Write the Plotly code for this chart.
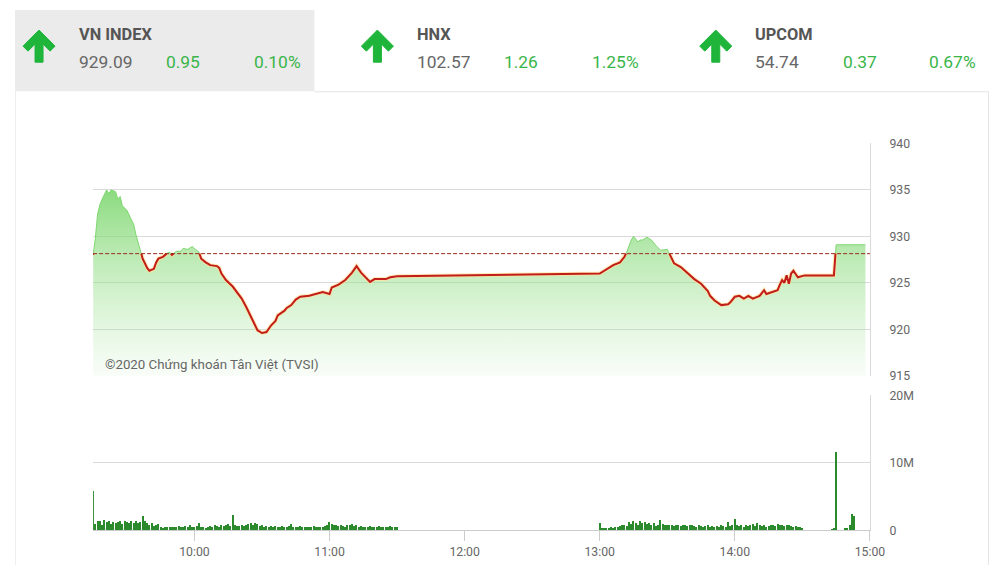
import plotly.graph_objects as go
import pandas as pd

DAY = "2020-06-01 "
REF = 928.14  # reference (previous close)

# ---------------- header data ----------------
index_names = ["VN INDEX", "HNX", "UPCOM"]
index_values = ["929.09", "102.57", "54.74"]
index_changes = ["0.95", "1.26", "0.37"]
index_pcts = ["0.10%", "1.25%", "0.67%"]

# ---------------- price data ----------------
price_times = [
    "09:15", "09:16", "09:17", "09:18", "09:19", "09:20", "09:21", "09:22", "09:23", "09:25",
    "09:26", "09:27", "09:28", "09:30", "09:31", "09:33", "09:34", "09:36", "09:37", "09:39",
    "09:40", "09:42", "09:43", "09:44", "09:46", "09:48", "09:49", "09:50", "09:52", "09:54",
    "09:55", "09:57", "09:59", "10:00", "10:02", "10:03", "10:05", "10:07", "10:10", "10:11",
    "10:12", "10:14", "10:17", "10:19", "10:21", "10:23", "10:25", "10:27", "10:28", "10:30",
    "10:32", "10:34", "10:36", "10:37", "10:40", "10:41", "10:43", "10:45", "10:47", "10:51",
    "10:54", "10:57", "11:00", "11:01", "11:04", "11:07", "11:10", "11:12", "11:14", "11:16",
    "11:18", "11:20", "11:25", "11:27", "11:30",
    "13:00", "13:02", "13:04", "13:06", "13:09", "13:11", "13:12", "13:13", "13:14", "13:15",
    "13:17", "13:18", "13:19", "13:21", "13:23", "13:25", "13:27", "13:30", "13:31", "13:33",
    "13:36", "13:39", "13:42", "13:45", "13:48", "13:49", "13:51", "13:54", "13:57", "13:58",
    "14:00", "14:02", "14:04", "14:06", "14:08", "14:11", "14:13", "14:14", "14:17", "14:19",
    "14:20", "14:21", "14:22", "14:23", "14:24", "14:25", "14:26", "14:27", "14:28", "14:31",
    "14:43", "14:44", "14:45", "14:58",
]
price_values = [
    928.0, 929.8, 932.4, 933.4, 934.0, 934.6, 935.0, 934.6, 935.0, 934.8,
    934.0, 934.3, 933.3, 932.8, 932.3, 931.3, 930.2, 928.5, 927.6, 926.6,
    926.3, 926.5, 927.2, 927.6, 927.8, 928.2, 928.3, 928.0, 928.4, 928.4,
    928.7, 928.6, 928.9, 928.7, 928.3, 927.6, 927.2, 926.9, 926.8, 926.6,
    926.0, 925.3, 924.6, 923.9, 923.3, 922.4, 921.4, 920.5, 919.9, 919.6,
    919.7, 920.4, 920.9, 921.5, 922.0, 922.3, 922.6, 923.2, 923.5, 923.6,
    923.8, 924.0, 923.8, 924.5, 924.8, 925.3, 926.1, 926.8, 926.1, 925.6,
    925.1, 925.4, 925.4, 925.6, 925.7,
    926.0, 926.3, 926.6, 926.9, 927.2, 927.8, 928.3, 929.0, 929.6, 930.0,
    929.4, 929.6, 929.6, 929.9, 929.6, 929.0, 928.5, 928.6, 928.1, 927.1,
    926.7, 926.0, 925.4, 924.9, 924.1, 923.6, 923.1, 922.6, 922.7, 922.9,
    923.5, 923.6, 923.3, 923.6, 923.3, 923.6, 924.2, 923.8, 924.0, 924.2,
    924.8, 925.3, 925.0, 925.8, 924.9, 926.0, 926.3, 925.9, 925.6, 925.8,
    925.8, 925.8, 929.09, 929.09,
]

# ---------------- volume data (millions of shares, 1-minute bars) ----------------
morning_start = "09:15"
morning_vol = [
    5.8, 0.9, 1.3, 1.4, 0.8,
    1.5, 1.2, 1.4, 0.9, 1.2,
    1.1, 1.2, 1.3, 0.9, 1.4,
    1.2, 1.0, 1.3, 1.1, 1.4,
    1.0, 1.2, 2.0, 1.3, 1.0,
    0.8, 1.0, 0.6, 0.8, 0.9,
    0.4, 0.3, 0.5, 0.4, 0.5,
    0.4, 0.5, 0.4, 0.6, 0.5,
    0.4, 0.6, 0.5, 0.7, 0.5,
    0.4, 0.6, 1.0, 0.5, 0.4,
    0.3, 0.5, 0.6, 0.4, 0.7,
    0.6, 0.5, 0.8, 0.6, 0.7,
    0.9, 0.6, 2.2, 0.7, 0.6,
    0.6, 0.7, 0.6, 0.8, 0.9,
    1.0, 0.8, 1.1, 0.9, 0.6,
    0.7, 0.5, 0.6, 0.5, 0.6,
    0.5, 0.6, 0.4, 0.5, 0.6,
    0.5, 0.4, 0.6, 0.9, 0.5,
    0.4, 0.5, 0.6, 0.4, 0.5,
    0.4, 0.5, 0.4, 0.6, 0.5,
    0.4, 0.5, 0.4, 0.6, 0.8,
    1.2, 0.9, 0.8, 0.7, 0.6,
    0.7, 0.6, 0.5, 0.7, 0.8,
    0.9, 0.6, 0.8, 0.5, 0.6,
    0.5, 0.4, 0.5, 0.6, 0.5,
    0.4, 0.5, 0.6, 0.4, 0.5,
    0.4, 0.5, 0.6, 0.4, 0.5,
    0.4,
]
afternoon_start = "13:00"
afternoon_vol = [
    1.0,
    0.2, 0.3, 0.2, 0.3, 0.4,
    0.3, 0.4, 0.5, 0.6, 0.7,
    0.8, 0.6, 1.2, 0.9, 1.3,
    1.1, 0.8, 1.3, 1.0, 1.2,
    0.9, 1.1, 0.7, 1.0, 0.6,
    0.7, 1.5, 0.9, 0.8, 0.7,
    0.8, 0.7, 0.6, 0.8, 0.7,
    0.6, 0.8, 0.7, 0.6, 0.8,
    0.7, 0.6, 0.5, 0.7, 0.6,
    0.5, 0.6, 0.7, 0.5, 0.6,
    0.5, 0.6, 0.5, 0.7, 0.6,
    0.5, 1.2, 0.6, 0.7, 1.6,
    0.8, 0.6, 0.7, 0.5, 0.8,
    0.6, 0.7, 0.9, 0.6, 1.1,
    0.8, 0.6, 0.7, 0.5, 0.6,
    0.8, 0.7, 0.6, 0.9, 0.7,
    0.8, 0.6, 0.7, 0.8, 0.6,
    0.5, 0.6, 0.5, 0.4, 0.3,
]
close_vol_times = ["14:43", "14:44", "14:45", "14:49", "14:50", "14:51", "14:52", "14:53"]
close_vol = [0.1, 0.15, 11.5, 0.25, 0.35, 0.75, 2.4, 2.1]

# ---------------- axis ticks ----------------
price_ticks = [915, 920, 925, 930, 935, 940]
vol_ticks = [0, 10, 20]
vol_tick_labels = ["0", "10M", "20M"]
time_ticks = ["10:00", "11:00", "12:00", "13:00", "14:00", "15:00"]
watermark = "©2020 Chứng khoán Tân Việt (TVSI)"

# ---------------- helpers ----------------
W, H = 1004, 565
# the captured page is slightly rescaled; positions below are given in
# final-picture pixels and mapped back to figure pixels
SX, SY, OY = 0.984, 0.972, 7.0
FS = 1.0 / 0.978  # font compensation


def px(x):
    return (x / SX) / W


def py(y):
    return 1 - ((y - OY) / SY) / H


def ts(t):
    return DAY + t + ":00" if len(t) == 5 else DAY + t


FONT = "Roboto, 'Noto Sans', sans-serif"
GRID = "#dadada"
TXT = "#666666"
GREEN = "#39b54a"

price_x = [ts(t) for t in price_times]

# split the series: red line only where the index is below the reference
ptimes = pd.to_datetime(price_x)
red_x, red_y = [], []
for i in range(len(price_values)):
    v = price_values[i]
    if i > 0:
        v0 = price_values[i - 1]
        if (v0 - REF) * (v - REF) < 0:
            f = (REF - v0) / (v - v0)
            tc = ptimes[i - 1] + (ptimes[i] - ptimes[i - 1]) * f
            red_x.append(tc.strftime("%Y-%m-%d %H:%M:%S"))
            red_y.append(REF)
            if v > REF:
                red_x.append(None)
                red_y.append(None)
    if v <= REF:
        red_x.append(price_x[i])
        red_y.append(v)

m_x = [d.strftime("%Y-%m-%d %H:%M:%S") for d in pd.date_range(DAY + morning_start, periods=len(morning_vol), freq="min")]
a_x = [d.strftime("%Y-%m-%d %H:%M:%S") for d in pd.date_range(DAY + afternoon_start, periods=len(afternoon_vol), freq="min")]
c_x = [ts(t) for t in close_vol_times]
vol_x = m_x + a_x + c_x
vol_y = morning_vol + afternoon_vol + close_vol

fig = go.Figure()

# green gradient area
fig.add_trace(go.Scatter(
    x=price_x, y=price_values, mode="lines",
    line=dict(color="rgba(125,215,110,1)", width=1),
    fill="tozeroy",
    fillgradient=dict(type="vertical", start=915, stop=936,
                      colorscale=[[0, "rgba(170,230,160,0.05)"], [1, "rgba(110,210,95,0.85)"]]),
    xaxis="x", yaxis="y", hoverinfo="skip",
))
# halo under red line
fig.add_trace(go.Scatter(
    x=red_x, y=red_y, mode="lines", connectgaps=False,
    line=dict(color="rgba(255,225,150,0.7)", width=4),
    xaxis="x", yaxis="y", hoverinfo="skip",
))
# red line
fig.add_trace(go.Scatter(
    x=red_x, y=red_y, mode="lines", connectgaps=False,
    line=dict(color="#c21d1d", width=2),
    xaxis="x", yaxis="y",
))
# volume bars
fig.add_trace(go.Bar(
    x=vol_x, y=vol_y, marker=dict(color="#2b8a2b", line=dict(width=0)),
    width=27000, xaxis="x2", yaxis="y2",
))

XDOM = [px(93), px(869)]
XRANGE = [ts("09:15"), ts("15:00")]

shapes = []
# header grey box
shapes.append(dict(type="rect", xref="paper", yref="paper", x0=px(15), x1=px(314), y0=py(91), y1=py(10),
                   fillcolor="#ebebeb", line=dict(width=0), layer="below"))
# container border
shapes.append(dict(type="path", xref="paper", yref="paper",
                   path=f"M {px(314)},{py(91.5)} L {px(987.5)},{py(91.5)} L {px(987.5)},{py(575)}",
                   line=dict(color="#e4e4e4", width=1), layer="below"))
shapes.append(dict(type="line", xref="paper", yref="paper", x0=px(15.5), x1=px(15.5), y0=py(91), y1=py(575),
                   line=dict(color="#eeeeee", width=1), layer="below"))
# reference dashed line
shapes.append(dict(type="line", xref="x domain", yref="y", x0=0, x1=1, y0=REF, y1=REF,
                   line=dict(color="#9a2a1a", width=1, dash="4px,2px")))

# arrows
arrow_pts = [(0, 0), (16, 16), (11, 21), (4, 14), (4, 32), (-4, 32), (-4, 14), (-11, 21), (-16, 16)]
arrow_cx = [39, 377, 715]
for cx in arrow_cx:
    pts = [(px(cx + a), py(30 + b)) for a, b in arrow_pts]
    path = "M " + " L ".join(f"{x:.5f},{y:.5f}" for x, y in pts) + " Z"
    shapes.append(dict(type="path", xref="paper", yref="paper", path=path,
                       fillcolor="#1fb53b", line=dict(color="#1fb53b", width=1)))

annotations = []
title_x = [79, 417, 754]
chg_x = [166, 503, 842]
pct_x = [254, 591, 928]
for i in range(3):
    annotations.append(dict(x=px(title_x[i] - 2), y=py(34), xref="paper", yref="paper", xanchor="left", yanchor="middle",
                            text=index_names[i], showarrow=False,
                            font=dict(family=FONT, size=16 * FS, color="#555555", weight="bold")))
    annotations.append(dict(x=px(title_x[i] - 2), y=py(62), xref="paper", yref="paper", xanchor="left", yanchor="middle",
                            text=index_values[i], showarrow=False,
                            font=dict(family=FONT, size=17 * FS, color=TXT)))
    annotations.append(dict(x=px(chg_x[i] - 2), y=py(62), xref="paper", yref="paper", xanchor="left", yanchor="middle",
                            text=index_changes[i], showarrow=False,
                            font=dict(family=FONT, size=17 * FS, color=GREEN)))
    annotations.append(dict(x=px(pct_x[i] - 2), y=py(62), xref="paper", yref="paper", xanchor="left", yanchor="middle",
                            text=index_pcts[i], showarrow=False,
                            font=dict(family=FONT, size=17 * FS, color=GREEN)))

annotations.append(dict(x=px(103), y=py(363), xref="paper", yref="paper", xanchor="left", yanchor="middle",
                        text=watermark, showarrow=False, font=dict(family=FONT, size=13 * FS, color=TXT)))

fig.update_layout(
    width=W, height=H, autosize=False,
    margin=dict(l=0, r=0, t=0, b=0),
    paper_bgcolor="white", plot_bgcolor="white",
    showlegend=False, bargap=0,
    shapes=shapes, annotations=annotations,
    xaxis=dict(domain=XDOM, range=XRANGE, type="date", anchor="y",
               showticklabels=False, showgrid=False, showline=False, zeroline=False, ticks=""),
    yaxis=dict(domain=[py(374.5), py(143)], range=[915, 940], side="right", anchor="x",
               tickvals=price_ticks, ticks="", ticklabelstandoff=16,
               gridcolor=GRID, gridwidth=1, showline=True, linecolor=GRID, zeroline=False,
               tickfont=dict(family=FONT, size=12 * FS, color=TXT)),
    xaxis2=dict(domain=XDOM, range=XRANGE, type="date", anchor="y2",
                tickvals=[ts(t) for t in time_ticks], ticktext=time_ticks,
                ticks="outside", ticklen=10, tickcolor="#cccccc", tickwidth=1,
                showline=True, linecolor="#cccccc", showgrid=False, zeroline=False,
                tickfont=dict(family=FONT, size=12 * FS, color=TXT)),
    yaxis2=dict(domain=[py(528.5), py(394)], range=[0, 20], side="right", anchor="x2",
                tickvals=vol_ticks, ticktext=vol_tick_labels, ticks="", ticklabelstandoff=16,
                gridcolor=GRID, gridwidth=1, showline=True, linecolor=GRID, zeroline=False,
                tickfont=dict(family=FONT, size=12 * FS, color=TXT)),
)

POST = (
    "document.documentElement.style.margin='0';document.body.style.margin='0';"
    "document.body.style.padding='0';document.body.style.overflow='hidden';"
    "document.documentElement.style.overflow='hidden';"
    "var d=document.getElementById('{plot_id}');"
    "d.style.position='fixed';d.style.left='0px';d.style.top='0px';"
)

fig.write_html("out.html", config={"displayModeBar": False}, post_script=POST)
